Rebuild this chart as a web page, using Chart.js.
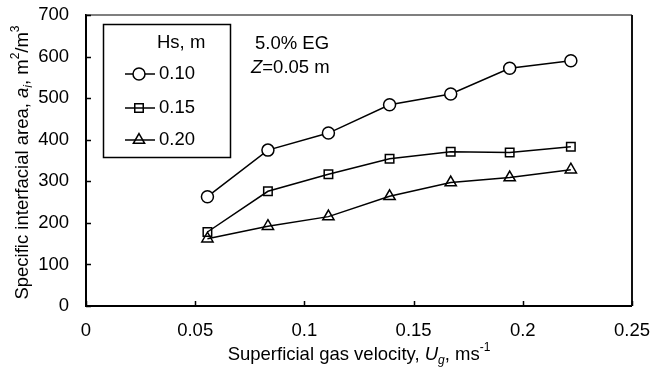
<!DOCTYPE html>
<html>
<head>
<meta charset="utf-8">
<script src="https://cdn.jsdelivr.net/npm/chart.js@4.4.1/dist/chart.umd.min.js"></script>
<style>
    html, body { margin: 0; padding: 0; background: #fff; }
    #wrap { width: 664px; height: 369px; }
</style>
</head>
<body>
<div id="wrap"><canvas id="chart" width="664" height="369"></canvas></div>
<script>
// superficial gas velocity, m/s
const velocity = [0.0556, 0.0833, 0.111, 0.139, 0.167, 0.194, 0.222];
const seriesNames = ["0.10", "0.15", "0.20"];
const hs010 = [263, 375, 416, 484, 510, 572, 590];
const hs015 = [178, 276, 317, 354, 371, 369, 383];
const hs020 = [162, 192, 215, 264, 297, 309, 328];
const xTicks = [0, 0.05, 0.1, 0.15, 0.2, 0.25];
const yTicks = [0, 100, 200, 300, 400, 500, 600, 700];

const FONT = "Liberation Sans, Arial, sans-serif";
const FS = 18.5;

function toPoints(ys) {
    return velocity.map((v, i) => ({ x: v, y: ys[i] }));
}

// draws a run of [text, style] pieces; style: "n" normal, "i" italic, "sub", "isub", "sup"
function drawRich(ctx, parts, x, y, size) {
    let cx = x;
    parts.forEach(([t, s]) => {
        let f = size, dy = 0, it = "";
        if (s === "i") it = "italic ";
        if (s === "sub" || s === "isub") { f = size * 0.65; dy = size * 0.3; }
        if (s === "isub") it = "italic ";
        if (s === "sup") { f = size * 0.65; dy = -size * 0.38; }
        ctx.font = it + f + "px " + FONT;
        ctx.fillText(t, cx, y + dy);
        cx += ctx.measureText(t).width;
    });
}

function richWidth(ctx, parts, size) {
    let w = 0;
    parts.forEach(([t, s]) => {
        let f = size, it = "";
        if (s === "i" || s === "isub") it = "italic ";
        if (s === "sub" || s === "isub" || s === "sup") f = size * 0.65;
        ctx.font = it + f + "px " + FONT;
        w += ctx.measureText(t).width;
    });
    return w;
}

const decorPlugin = {
    id: "decor",
    afterDraw(chart) {
        const ctx = chart.ctx;
        const a = chart.chartArea;
        const xs = chart.scales.x, ys = chart.scales.y;
        ctx.save();

        // frame: top and right
        ctx.strokeStyle = "#555";
        ctx.lineWidth = 1.5;
        ctx.beginPath();
        ctx.moveTo(a.left, a.top);
        ctx.lineTo(a.right, a.top);
        ctx.stroke();
        ctx.strokeStyle = "#111";
        ctx.lineWidth = 2;
        ctx.beginPath();
        ctx.moveTo(a.right, a.top);
        ctx.lineTo(a.right, a.bottom);
        ctx.stroke();

        // inward tick marks
        ctx.strokeStyle = "#000";
        ctx.lineWidth = 1.5;
        ctx.beginPath();
        yTicks.forEach(v => {
            const py = Math.round(ys.getPixelForValue(v)) + 0.5;
            ctx.moveTo(a.left, py);
            ctx.lineTo(a.left + 5, py);
        });
        xTicks.forEach(v => {
            const px = Math.round(xs.getPixelForValue(v)) + 0.5;
            ctx.moveTo(px, a.bottom);
            ctx.lineTo(px, a.bottom - 5);
        });
        ctx.stroke();

        ctx.fillStyle = "#000";
        ctx.textBaseline = "middle";

        // axis titles
        const xTitle = [["Superficial gas velocity, ", "n"], ["U", "i"], ["g", "isub"], [", ms", "n"], ["-1", "sup"]];
        const xw = richWidth(ctx, xTitle, FS);
        drawRich(ctx, xTitle, (a.left + a.right) / 2 - xw / 2, 355, FS);

        const yTitle = [["Specific interfacial area, ", "n"], ["a", "i"], ["i", "isub"], [", m", "n"], ["2", "sup"], ["/m", "n"], ["3", "sup"]];
        const yw = richWidth(ctx, yTitle, FS);
        ctx.save();
        ctx.translate(23, (a.top + a.bottom) / 2 + 2);
        ctx.rotate(-Math.PI / 2);
        drawRich(ctx, yTitle, -yw / 2, 0, FS);
        ctx.restore();

        // annotation
        drawRich(ctx, [["5.0% EG", "n"]], 255, 44, FS);
        drawRich(ctx, [["Z", "i"], ["=0.05 m", "n"]], 251, 68, FS);

        // legend box
        ctx.strokeStyle = "#000";
        ctx.lineWidth = 1.5;
        ctx.strokeRect(103.5, 24.5, 127, 133);
        drawRich(ctx, [["Hs, m", "n"]], 157, 43, FS);
        const rows = [74, 108, 140];
        chart.data.datasets.forEach((ds, i) => {
            const ly = rows[i];
            ctx.strokeStyle = "#000";
            ctx.lineWidth = 1.5;
            ctx.beginPath();
            ctx.moveTo(125, ly);
            ctx.lineTo(155, ly);
            ctx.stroke();
            ctx.fillStyle = ds.pointBackgroundColor;
            ctx.strokeStyle = "#000";
            ctx.lineWidth = ds.pointBorderWidth;
            Chart.helpers.drawPoint(ctx, {
                pointStyle: ds.pointStyle,
                radius: ds.pointRadius,
                borderWidth: ds.pointBorderWidth,
                rotation: 0
            }, 139, ly);
            ctx.fillStyle = "#000";
            drawRich(ctx, [[ds.label, "n"]], 159, ly, FS);
        });

        ctx.restore();
    }
};

const ctx = document.getElementById("chart").getContext("2d");

new Chart(ctx, {
    type: "scatter",
    data: {
        datasets: [
            {
                label: seriesNames[0],
                data: toPoints(hs010),
                showLine: true,
                borderColor: "#000",
                borderWidth: 1.5,
                pointStyle: "circle",
                pointRadius: 6,
                pointBorderWidth: 1.5,
                pointBorderColor: "#000",
                pointBackgroundColor: "#fff"
            },
            {
                label: seriesNames[1],
                data: toPoints(hs015),
                showLine: true,
                borderColor: "#000",
                borderWidth: 1.5,
                pointStyle: "rect",
                pointRadius: 6,
                pointBorderWidth: 1.5,
                pointBorderColor: "#000",
                pointBackgroundColor: "rgba(255,255,255,0)"
            },
            {
                label: seriesNames[2],
                data: toPoints(hs020),
                showLine: true,
                borderColor: "#000",
                borderWidth: 1.5,
                pointStyle: "triangle",
                pointRadius: 6.5,
                pointBorderWidth: 1.5,
                pointBorderColor: "#000",
                pointBackgroundColor: "rgba(255,255,255,0)"
            }
        ]
    },
    options: {
        responsive: false,
        animation: false,
        layout: { padding: { left: 0, top: 15, right: 30, bottom: 0 } },
        plugins: {
            legend: { display: false },
            tooltip: { enabled: false }
        },
        scales: {
            x: {
                type: "linear",
                min: 0,
                max: 0.25,
                afterBuildTicks: (s) => { s.ticks = xTicks.map(v => ({ value: v })); },
                afterFit: (s) => { s.height = 63; },
                grid: { display: false, drawTicks: false },
                border: { display: true, color: "#000", width: 2 },
                ticks: {
                    color: "#000",
                    padding: 14,
                    font: { family: FONT, size: FS },
                    callback: (v) => String(v)
                }
            },
            y: {
                type: "linear",
                min: 0,
                max: 700,
                afterBuildTicks: (s) => { s.ticks = yTicks.map(v => ({ value: v })); },
                afterFit: (s) => { s.width = 86; s.paddingTop = 0; s.paddingBottom = 0; },
                grid: { display: false, drawTicks: false },
                border: { display: true, color: "#000", width: 2 },
                ticks: {
                    color: "#000",
                    padding: 17,
                    font: { family: FONT, size: FS }
                }
            }
        }
    },
    plugins: [decorPlugin]
});
</script>
</body>
</html>
